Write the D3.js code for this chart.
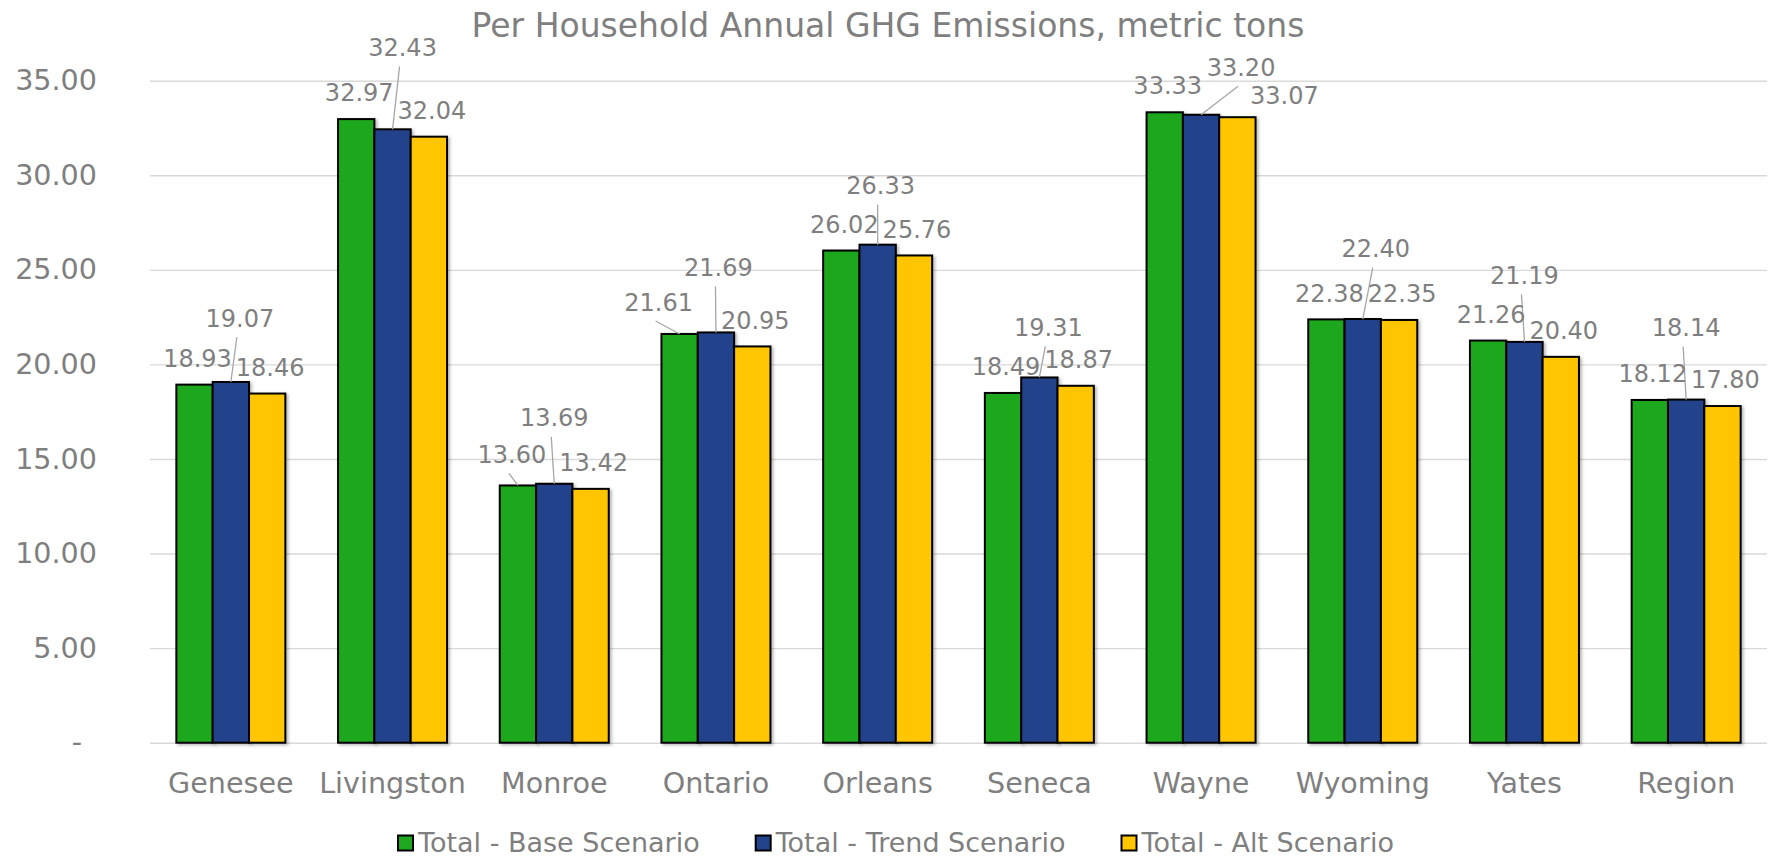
<!DOCTYPE html>
<html>
<head>
<meta charset="utf-8">
<script src="https://cdn.jsdelivr.net/npm/d3@7"></script>
<style>
    body { margin: 0; background: #fff; }
    svg { display: block; font-family: "DejaVu Sans", sans-serif; }
</style>
</head>
<body>
<svg id="chart" width="1773" height="857"></svg>
<script>
const categories = ["Genesee", "Livingston", "Monroe", "Ontario", "Orleans", "Seneca", "Wayne", "Wyoming", "Yates", "Region"]
const baseScenario = [18.93, 32.97, 13.60, 21.61, 26.02, 18.49, 33.33, 22.38, 21.26, 18.12]
const trendScenario = [19.07, 32.43, 13.69, 21.69, 26.33, 19.31, 33.20, 22.40, 21.19, 18.14]
const altScenario = [18.46, 32.04, 13.42, 20.95, 25.76, 18.87, 33.07, 22.35, 20.40, 17.80]
const seriesNames = ["Total - Base Scenario", "Total - Trend Scenario", "Total - Alt Scenario"]
const yTicks = [0, 5, 10, 15, 20, 25, 30, 35]
const title = "Per Household Annual GHG Emissions, metric tons"

const colors = ["#1fa71f", "#23438b", "#ffc600"]
const textColor = "#7f7f7f"

// labels dragged by hand in the original: [dx, rise above bar top], null = default spot
const labelDefault = [3, 26.5]
const labelMoves = [
    [null, null, [-6, 31], [-21, 32], null, null, null, null, null, null],
    [[9, 64], [10, 82], [0, 66], [2.5, 65], [3, 59], [9, 50], [40, 47.5], [13, 70.5], [0, 66.5], [0, 72]],
    [null, null, null, null, null, null, [47, 21.5], null, null, null]
]

const margin = {top: 80.7, right: 6, bottom: 114.3, left: 150}
const width = 1773, height = 857
const plotW = width - margin.left - margin.right
const plotH = height - margin.top - margin.bottom

const series = [baseScenario, trendScenario, altScenario]

const svg = d3.select("#chart")

const defs = svg.append("defs")
defs.append("filter")
    .attr("id", "shadow")
    .attr("x", "-20%").attr("y", "-5%")
    .attr("width", "150%").attr("height", "115%")
    .append("feDropShadow")
    .attr("dx", 2).attr("dy", 1.5)
    .attr("stdDeviation", 1.8)
    .attr("flood-color", "#000")
    .attr("flood-opacity", 0.28)

const x = d3.scaleBand()
    .domain(categories)
    .range([0, plotW])
    .paddingInner(0.326)
    .paddingOuter(0.163)

const xSeries = d3.scaleBand()
    .domain(d3.range(series.length))
    .range([0, x.bandwidth()])

const y = d3.scaleLinear()
    .domain([0, 35])
    .range([plotH, 0])

svg.append("text")
    .attr("x", 888)
    .attr("y", 37)
    .attr("text-anchor", "middle")
    .attr("font-size", 33)
    .attr("fill", textColor)
    .text(title)

const g = svg.append("g")
    .attr("transform", `translate(${margin.left}, ${margin.top})`)

const yAxis = g.append("g")
    .call(d3.axisLeft(y)
        .tickValues(yTicks)
        .tickSize(-plotW)
        .tickPadding(53)
        .tickFormat(d => d === 0 ? "-" : d3.format(".2f")(d)))

yAxis.select(".domain").remove()
yAxis.selectAll(".tick line")
    .attr("stroke", "#d9d9d9")
    .attr("stroke-width", 1.4)
yAxis.selectAll(".tick text")
    .attr("font-size", 28.6)
    .attr("font-family", "DejaVu Sans, sans-serif")
    .attr("fill", textColor)
    .attr("dx", d => d === 0 ? -15 : 0)

const xAxis = g.append("g")
    .attr("transform", `translate(0, ${plotH})`)
    .call(d3.axisBottom(x).tickSize(0).tickPadding(30))

xAxis.select(".domain").remove()
xAxis.selectAll(".tick text")
    .attr("font-size", 28.6)
    .attr("font-family", "DejaVu Sans, sans-serif")
    .attr("fill", textColor)

const groups = g.selectAll("g.group")
    .data(categories)
    .join("g")
    .attr("class", "group")
    .attr("transform", d => `translate(${x(d)}, 0)`)

groups.selectAll("rect")
    .data((d, i) => series.map((s, k) => ({k, v: s[i]})))
    .join("rect")
    .attr("x", d => xSeries(d.k))
    .attr("y", d => y(d.v))
    .attr("width", xSeries.bandwidth())
    .attr("height", d => plotH - y(d.v))
    .attr("fill", d => colors[d.k])
    .attr("stroke", "#000")
    .attr("stroke-width", 2)
    .attr("filter", "url(#shadow)")

const labels = []
series.forEach((s, k) => {
    s.forEach((v, i) => {
        const move = labelMoves[k][i]
        const [dx, rise] = move || labelDefault
        const bx = x(categories[i]) + xSeries(k) + xSeries.bandwidth() / 2
        const by = y(v)
        // excel only draws the leader once the label is lifted clear of the bar
        labels.push({v, bx, by, cx: bx + dx, cy: by - rise, leader: move !== null && rise > 28})
    })
})

g.selectAll("line.leader")
    .data(labels.filter(d => d.leader))
    .join("line")
    .attr("class", "leader")
    .attr("x1", d => d.cx - 3)
    .attr("y1", d => d.cy + 19)
    .attr("x2", d => d.bx)
    .attr("y2", d => d.by)
    .attr("stroke", "#a6a6a6")
    .attr("stroke-width", 1.3)

g.selectAll("text.value")
    .data(labels)
    .join("text")
    .attr("class", "value")
    .attr("x", d => d.cx)
    .attr("y", d => d.cy)
    .attr("dy", "0.36em")
    .attr("text-anchor", "middle")
    .attr("font-size", 24)
    .attr("fill", textColor)
    .text(d => d3.format(".2f")(d.v))

const legend = svg.append("g")
const items = legend.selectAll("g")
    .data(seriesNames)
    .join("g")

items.append("rect")
    .attr("y", 835.5)
    .attr("width", 15)
    .attr("height", 15)
    .attr("fill", (d, i) => colors[i])
    .attr("stroke", "#000")
    .attr("stroke-width", 2)

items.append("text")
    .attr("x", 20)
    .attr("y", 852)
    .attr("font-size", 27)
    .attr("fill", textColor)
    .text(d => d)

let offset = 0
const itemGap = 56
items.each(function() {
    const w = 20 + d3.select(this).select("text").node().getComputedTextLength()
    d3.select(this).attr("data-w", w)
})
const totalW = d3.sum(items.nodes(), n => +n.getAttribute("data-w")) + itemGap * (seriesNames.length - 1)
offset = 896 - totalW / 2
items.attr("transform", function() {
    const t = `translate(${offset}, 0)`
    offset += +this.getAttribute("data-w") + itemGap
    return t
})
</script>
</body>
</html>
